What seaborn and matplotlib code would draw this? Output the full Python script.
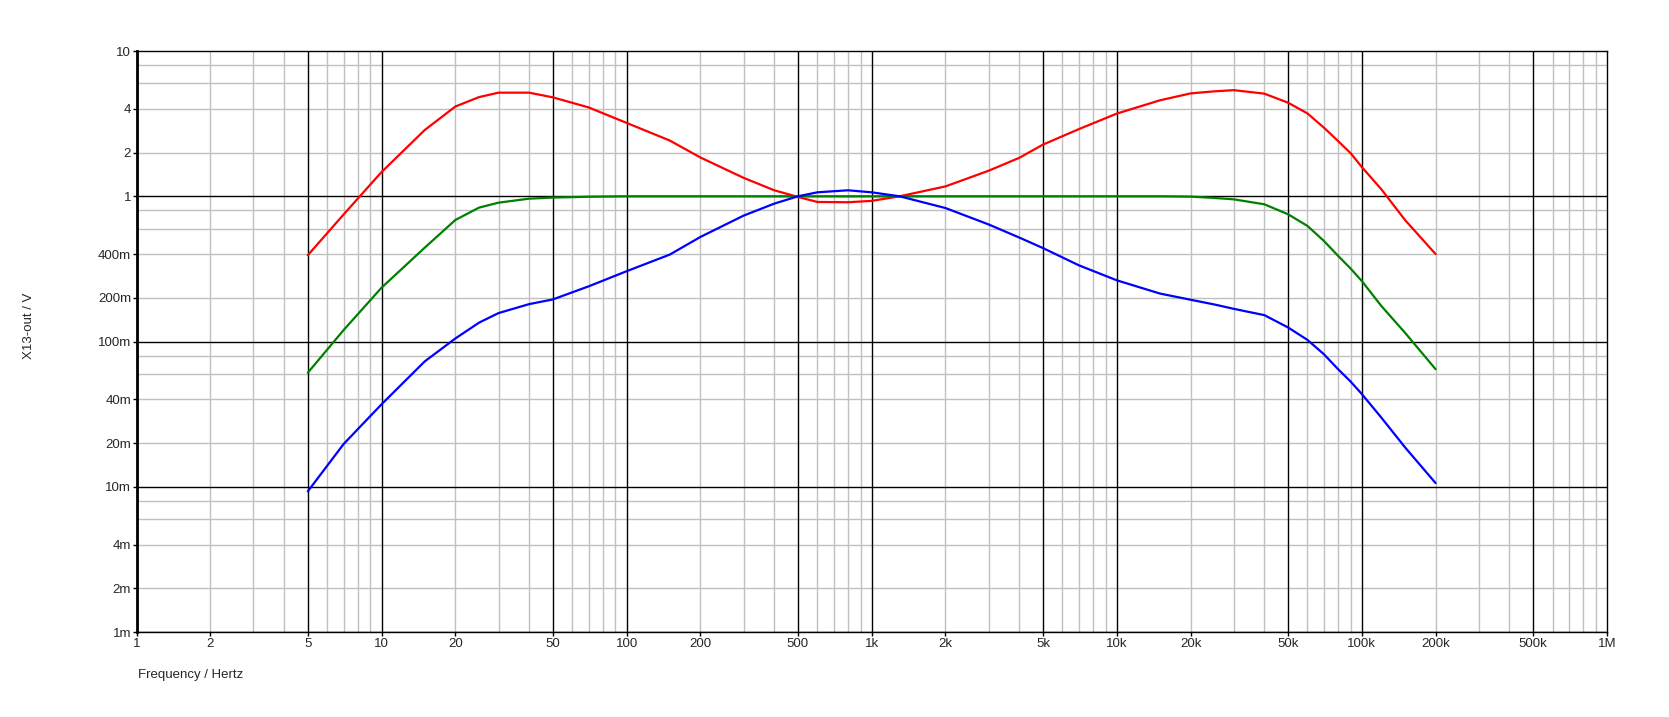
import numpy as np
import pandas as pd
import matplotlib
matplotlib.use("Agg")
import matplotlib.pyplot as plt
import seaborn as sns

# frequencies (Hz)
freq = [5, 7, 10, 15, 20, 25, 30, 40, 50, 70,
        100, 150, 200, 300, 400, 500, 600, 800, 1000, 1300,
        2000, 3000, 4000, 5000, 7000, 10000, 15000, 20000, 25000, 30000,
        40000, 50000, 60000, 70000, 80000, 90000, 100000, 120000, 150000, 200000]

red = [0.393, 0.75, 1.47, 2.86, 4.15, 4.82, 5.17, 5.17, 4.8, 4.09,
       3.2, 2.42, 1.85, 1.34, 1.10, 0.99, 0.914, 0.91, 0.93, 1.0,
       1.17, 1.5, 1.84, 2.27, 2.9, 3.71, 4.58, 5.11, 5.28, 5.38,
       5.09, 4.41, 3.72, 2.97, 2.40, 1.98, 1.59, 1.12, 0.687, 0.40]

green = [0.061, 0.12, 0.235, 0.443, 0.687, 0.836, 0.904, 0.963, 0.98, 0.993,
         1.0, 1.0, 1.0, 1.0, 1.0, 1.0, 1.0, 1.0, 1.0, 1.0,
         1.0, 1.0, 1.0, 1.0, 1.0, 1.0, 1.0, 0.995, 0.974, 0.953,
         0.881, 0.752, 0.625, 0.493, 0.389, 0.318, 0.261, 0.176, 0.115, 0.0645]

blue = [0.0093, 0.0197, 0.037, 0.073, 0.105, 0.135, 0.157, 0.181, 0.195, 0.24,
        0.305, 0.397, 0.525, 0.736, 0.89, 1.0, 1.065, 1.10, 1.065, 1.0,
        0.83, 0.64, 0.52, 0.44, 0.335, 0.264, 0.214, 0.194, 0.18, 0.168,
        0.152, 0.125, 0.1026, 0.0818, 0.0645, 0.053, 0.0435, 0.030, 0.0187, 0.0106]

xtick_vals = [1, 2, 5, 10, 20, 50, 100, 200, 500, 1e3, 2e3, 5e3, 1e4, 2e4, 5e4,
              1e5, 2e5, 5e5, 1e6]
xtick_labels = ["1", "2", "5", "10", "20", "50", "100", "200", "500", "1k", "2k",
                "5k", "10k", "20k", "50k", "100k", "200k", "500k", "1M"]
ytick_vals = [1e-3, 2e-3, 4e-3, 1e-2, 2e-2, 4e-2, 0.1, 0.2, 0.4, 1, 2, 4, 10]
ytick_labels = ["1m", "2m", "4m", "10m", "20m", "40m", "100m", "200m", "400m",
                "1", "2", "4", "10"]

df = pd.concat([
    pd.DataFrame({"f": freq, "v": red, "trace": "red"}),
    pd.DataFrame({"f": freq, "v": green, "trace": "green"}),
    pd.DataFrame({"f": freq, "v": blue, "trace": "blue"}),
])

sns.set_style("white")
plt.rcParams["font.family"] = ["Liberation Sans", "DejaVu Sans"]

fig = plt.figure(figsize=(16.69, 7.17), dpi=100)
ax = fig.add_axes([0.0818, 0.1185, 0.881, 0.8103])
ax.set_xscale("log")
ax.set_yscale("log")
ax.set_xlim(1, 1e6)
ax.set_ylim(1e-3, 10)

# grid: gray minors, black at 1 and 5 per decade
for dec in range(0, 6):
    base = 10 ** dec
    for m in [2, 3, 4, 6, 7, 8, 9]:
        ax.axvline(m * base, color="#c0c0c0", lw=1.0, zorder=0)
    for m in [1, 5]:
        ax.axvline(m * base, color="black", lw=1.0, zorder=1)
for dec in range(-3, 1):
    base = 10.0 ** dec
    for m in [2, 4, 6, 8]:
        ax.axhline(m * base, color="#c0c0c0", lw=1.0, zorder=0)
    ax.axhline(base, color="black", lw=1.0, zorder=1)

sns.lineplot(data=df, x="f", y="v", hue="trace", sort=False, estimator=None,
             palette={"red": "#ff0000", "green": "#008000", "blue": "#0000ff"},
             lw=1.6, legend=False, ax=ax, zorder=3)

ax.set_xticks(xtick_vals)
ax.set_xticklabels(xtick_labels)
ax.set_yticks(ytick_vals)
ax.set_yticklabels(ytick_labels)
ax.minorticks_off()
ax.tick_params(axis="both", labelsize=9.5, length=3, width=1, color="black",
               pad=1, direction="out", bottom=True, left=True)
for s in ax.spines.values():
    s.set_color("black")
    s.set_linewidth(1.0)
ax.spines["left"].set_linewidth(2.0)
ax.set_xlabel("")
ax.set_ylabel("")

fig.text(138 / 1669, 1 - 675 / 717, "Frequency / Hertz", fontsize=9.5,
         ha="left", va="center")
fig.text(29 / 1669, 1 - 326 / 717, "X13-out / V", fontsize=9.5, rotation=90,
         ha="center", va="center")

fig.savefig("out.png", dpi=100)
